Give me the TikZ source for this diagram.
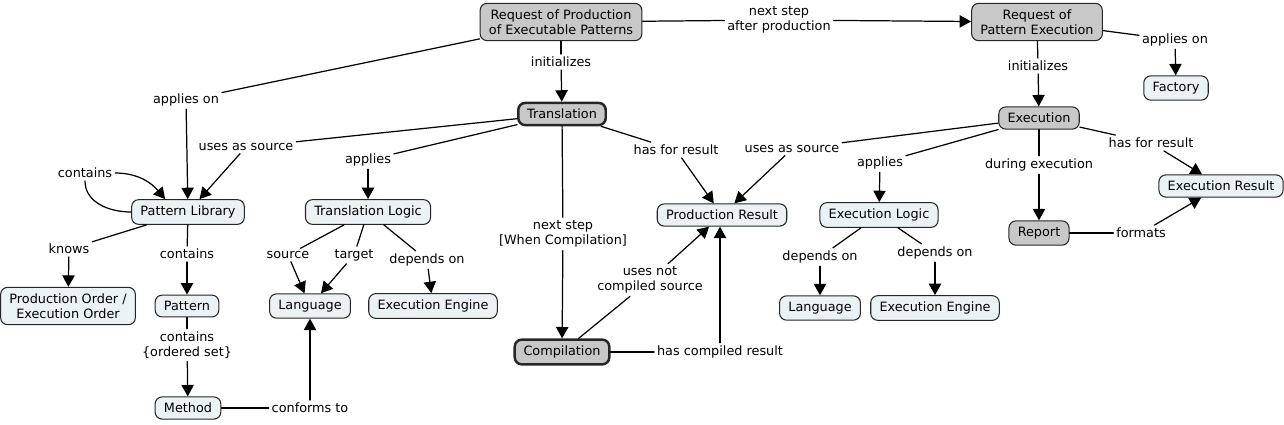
\documentclass[tikz,border=0pt]{standalone}
\usepackage{fontspec}
\setmainfont{DejaVu Sans}
\usepackage{tikz}
\usetikzlibrary{arrows.meta}
\definecolor{cmapblue}{RGB}{234,242,245}
\definecolor{cmapgray}{RGB}{200,200,200}
\tikzset{
  concept/.style={draw=black!85, fill=cmapblue, rounded corners=4pt, align=center,
    inner xsep=5pt, inner ysep=3.5pt, line width=0.6pt},
  gconcept/.style={concept, fill=cmapgray},
  bold/.style={line width=1.4pt},
  phrase/.style={align=center, inner sep=1.5pt, fill=white},
  link/.style={line width=0.7pt},
  arr/.style={link, -{Triangle[length=6.5pt,width=7pt]}}
}

\begin{document}
\begin{tikzpicture}[line cap=round,line join=round,x=0.02cm,y=-0.02cm,
  font=\fontsize{7.3}{8.6}\selectfont]
\useasboundingbox (0,0) rectangle (1284,424);

% concepts
\node[gconcept] (reqprod) at (561,22) {Request of Production\\of Executable Patterns};
\node[gconcept] (reqexec) at (1037,22) {Request of\\Pattern Execution};
\node[gconcept,bold] (transl) at (562,114) {Translation};
\node[gconcept] (exec) at (1039,118) {Execution};
\node[concept] (factory) at (1176,88) {Factory};
\node[concept] (patlib) at (188,212) {Pattern Library};
\node[concept] (translogic) at (368,212) {Translation Logic};
\node[concept] (prodres) at (722,215) {Production Result};
\node[concept] (execlogic) at (879,215) {Execution Logic};
\node[concept] (execres) at (1221,186) {Execution Result};
\node[gconcept] (report) at (1039,233) {Report};
\node[concept] (order) at (68,306) {Production Order /\\Execution Order};
\node[concept] (pattern) at (187,306) {Pattern};
\node[concept] (langl) at (310,306) {Language};
\node[concept] (enginel) at (433,306) {Execution Engine};
\node[gconcept,bold] (compil) at (562,352) {Compilation};
\node[concept] (langr) at (820,308) {Language};
\node[concept] (enginer) at (935,308) {Execution Engine};
\node[concept] (method) at (188,408) {Method};

% linking phrases
\node[phrase] (nextprod) at (779,20) {next step\\after production};
\node[phrase] (initl) at (561,62) {initializes};
\node[phrase] (applyonl) at (186,100) {applies on};
\node[phrase] (srcl) at (246,147) {uses as source};
\node[phrase] (containsloop) at (85,173) {contains};
\node[phrase] (applyl) at (368,160) {applies};
\node[phrase] (resl) at (676,150) {has for result};
\node[phrase] (srcr) at (792,149) {uses as source};
\node[phrase] (applyr) at (880,163) {applies};
\node[phrase] (initr) at (1038,66) {initializes};
\node[phrase] (applyonr) at (1175,40) {applies on};
\node[phrase] (during) at (1039,165) {during execution};
\node[phrase] (resr) at (1151,143) {has for result};
\node[phrase] (formats) at (1141,233) {formats};
\node[phrase] (knows) at (69,249) {knows};
\node[phrase] (containsp) at (187,254) {contains};
\node[phrase] (source) at (288,255) {source};
\node[phrase] (target) at (354,255) {target};
\node[phrase] (depl) at (427,260) {depends on};
\node[phrase] (nextcomp) at (563,234) {next step\\{[}When Compilation{]}};
\node[phrase] (notcomp) at (650,280) {uses not\\compiled source};
\node[phrase] (compres) at (720,352) {has compiled result};
\node[phrase] (deprl) at (820,257) {depends on};
\node[phrase] (deprr) at (935,253) {depends on};
\node[phrase] (ordset) at (187,345) {contains\\\{ordered set\}};
\node[phrase] (conforms) at (310,408) {conforms to};

% links
\draw[link] (reqprod) -- (nextprod); \draw[arr] (nextprod) -- (reqexec);
\draw[link] (reqprod) -- (initl); \draw[arr] (initl) -- (transl);
\draw[link] (reqprod) -- (applyonl); \draw[arr] (applyonl) -- (patlib);
\draw[link] (transl) -- (srcl); \draw[arr] (srcl) -- (patlib);
\draw[link] (transl) -- (applyl); \draw[arr] (applyl) -- (translogic);
\draw[link] (transl) -- (resl); \draw[arr] (resl) -- (prodres);
\draw[link] (transl) -- (nextcomp); \draw[arr] (nextcomp) -- (compil);
\draw[link] (exec) -- (srcr); \draw[arr] (srcr) -- (prodres);
\draw[link] (exec) -- (applyr); \draw[arr] (applyr) -- (execlogic);
\draw[link] (exec) -- (during); \draw[arr] (during) -- (report);
\draw[link] (exec) -- (resr); \draw[arr] (resr) -- (execres);
\draw[link] (reqexec) -- (initr); \draw[arr] (initr) -- (exec);
\draw[link] (reqexec) -- (applyonr); \draw[arr] (applyonr) -- (factory);
\draw[link] (report) -- (formats); \draw[arr] (formats) -- (execres);
\draw[link] (patlib.west) to[out=180,in=-90] (containsloop.south);
\draw[arr] (containsloop.east) to[out=0,in=130] ([xshift=-13]patlib.north);
\draw[link] (patlib) -- (knows); \draw[arr] (knows) -- (order);
\draw[link] (patlib) -- (containsp); \draw[arr] (containsp) -- (pattern);
\draw[link] (pattern) -- (ordset); \draw[arr] (ordset) -- (method);
\draw[link] (method) -- (conforms); \draw[arr] (conforms) -- (langl);
\draw[link] (translogic) -- (source); \draw[arr] (source) -- (langl);
\draw[link] (translogic) -- (target); \draw[arr] (target) -- (langl);
\draw[link] (translogic) -- (depl); \draw[arr] (depl) -- (enginel);
\draw[link] (compil) -- (notcomp); \draw[arr] (notcomp) -- (prodres);
\draw[link] (compil) -- (compres); \draw[arr] (compres.north) -- (compres.north |- prodres.south);
\draw[link] (execlogic) -- (deprl); \draw[arr] (deprl) -- (langr);
\draw[link] (execlogic) -- (deprr); \draw[arr] (deprr) -- (enginer);
\end{tikzpicture}
\end{document}
